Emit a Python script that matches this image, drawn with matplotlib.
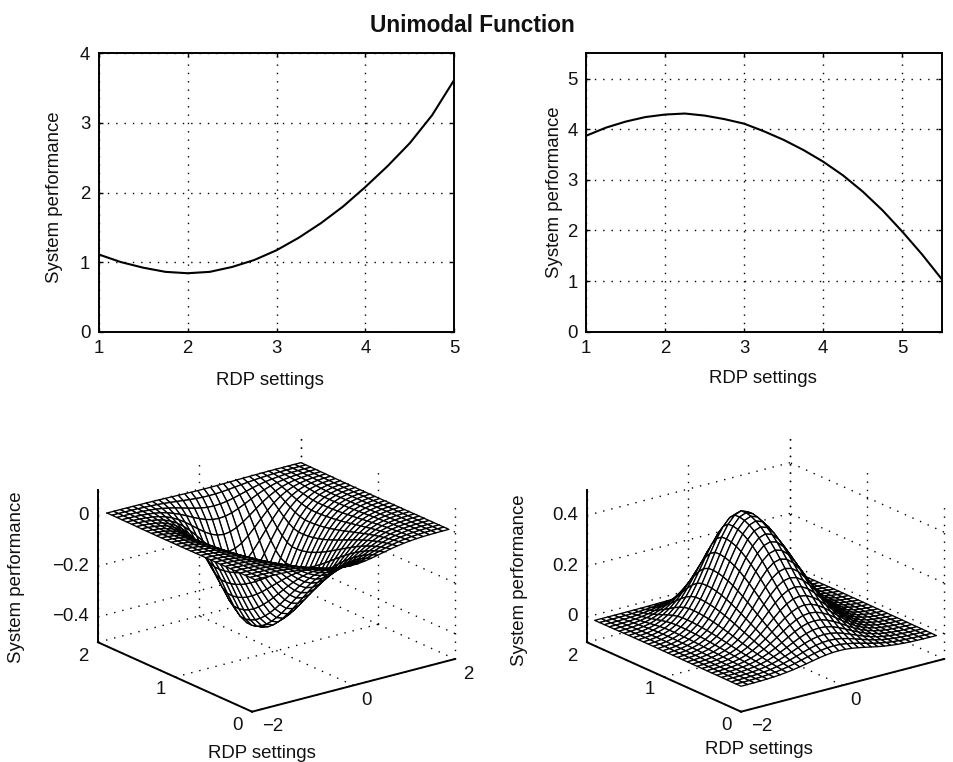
#!/usr/bin/env python3
# -*- coding: utf-8 -*-

import numpy as np
import matplotlib
matplotlib.use('Agg')
import matplotlib.pyplot as plt
from matplotlib.transforms import offset_copy

plt.rcParams['font.family'] = ['Liberation Sans', 'DejaVu Sans']

# =========================================================
# DATA
# =========================================================
W, H = 954, 762
FS = 13.4

left_x = [1, 1.25, 1.5, 1.75, 2, 2.25, 2.5, 2.75, 3, 3.25, 3.5, 3.75, 4, 4.25, 4.5, 4.75, 5]
left_y = [1.11, 1.0, 0.92, 0.86, 0.84, 0.86, 0.93, 1.03, 1.17, 1.35, 1.56, 1.80, 2.08, 2.38, 2.71, 3.11, 3.62]

right_x = [1, 1.25, 1.5, 1.75, 2, 2.25, 2.5, 2.75, 3, 3.25, 3.5, 3.75, 4, 4.25, 4.5, 4.75, 5, 5.25, 5.5]
right_y = [3.87, 4.03, 4.15, 4.24, 4.29, 4.31, 4.27, 4.20, 4.11, 3.96, 3.79, 3.59, 3.36, 3.09, 2.77, 2.40, 1.98, 1.53, 1.04]

# relative height of the bump along each mesh direction
x_profile = [.004, .008, .015, .029, .050, .085, .135, .206, .298, .411, .539, .674, .801, .906, .976, 1.0,
             .976, .906, .801, .674, .539, .411, .298, .206, .135, .085, .050, .029, .015, .008, .004]
y_profile = [.096, .121, .151, .186, .227, .273, .325, .381, .442, .507, .573, .640, .707, .771, .829, .882,
             .927, .962, .986, .998, .995, .95, .86, .74, .60, .46, .33, .21, .12, .05, .01]

pit_depth = -0.45
peak_height = 0.42


# =========================================================
# HELPERS
# =========================================================
def px_text(fig, x, y, s, **kw):
    fig.text(x / W, 1 - y / H, s, ha='center', va='center', fontsize=FS, color='#111111', **kw)


def draw_line_panel(fig, box, x, y, xlim, ylim, xticks, yticks):
    l, r, t, b = box
    ax = fig.add_axes([l / W, 1 - b / H, (r - l) / W, (b - t) / H])
    ax.plot(x, y, color='black', lw=1.5, zorder=3)
    ax.set_xlim(*xlim)
    ax.set_ylim(*ylim)
    ax.set_xticks(xticks)
    ax.set_yticks(yticks)
    ax.grid(True, color='black', lw=1.0, linestyle=(0, (1, 5)))
    ax.tick_params(direction='in', top=True, right=True, length=3, width=1,
                   labelsize=FS, pad=6, labelcolor='#111111')
    for s in ax.spines.values():
        s.set_linewidth(1.4)
    return ax


def draw_surface_panel(fig, left_px, xs, ys, Z, zlim, zticks, zticklabels):
    S = 400
    bottom_px = 779.9
    ax = fig.add_axes([left_px / W, 1 - bottom_px / H, S / W, S / H],
                      projection='3d', computed_zorder=False)
    ax.set_proj_type('ortho')
    ax.view_init(elev=20, azim=-127.2)
    ax.set_box_aspect((1, 1, 0.636), zoom=0.959)
    ax.set_xlim(-2, 2)
    ax.set_ylim(0, 2)
    ax.set_zlim(*zlim)
    ax.set_axis_off()

    z0, z1 = zlim
    dots = dict(color='black', lw=1.0, linestyle=(0, (1, 5)), zorder=1)

    # dotted grid on the floor and on both back walls
    for xt in [-2, 0, 2]:
        ax.plot([xt, xt], [0, 2], [z0, z0], **dots)
        ax.plot([xt, xt], [2, 2], [z0, z1], **dots)
    for yt in [0, 1, 2]:
        ax.plot([-2, 2], [yt, yt], [z0, z0], **dots)
        ax.plot([2, 2], [yt, yt], [z0, z1], **dots)
    for zt in zticks:
        ax.plot([-2, 2], [2, 2], [zt, zt], **dots)
        ax.plot([2, 2], [0, 2], [zt, zt], **dots)

    X, Y = np.meshgrid(xs, ys)
    ax.plot_surface(X, Y, Z, rstride=1, cstride=1, color='white', edgecolor='black',
                    linewidth=0.95, shade=False, zorder=2)

    # solid axis lines
    solid = dict(color='black', lw=1.4, zorder=3)
    ax.plot([-2, 2], [0, 0], [z0, z0], **solid)
    ax.plot([-2, -2], [0, 2], [z0, z0], **solid)
    ax.plot([-2, -2], [2, 2], [z0, z1], **solid)

    def label(x, y, z, s, dx, dy, ha='center'):
        tr = offset_copy(ax.transData, fig=fig, x=dx, y=dy, units='dots')
        ax.text(x, y, z, s, transform=tr, ha=ha, va='center', fontsize=FS,
                color='#111111', zorder=4)

    label(-2, 0, z0, '\u22122', 21, -15)
    label(0, 0, z0, '0', 13, -15)
    label(2, 0, z0, '2', 13, -15)
    label(-2, 0, z0, '0', -15, -14)
    label(-2, 1, z0, '1', -14, -13)
    label(-2, 2, z0, '2', -15, -14)
    for zt, s in zip(zticks, zticklabels):
        label(-2, 2, zt, s, -9, 0, ha='right')
    return ax


# =========================================================
# PLOT
# =========================================================
fig = plt.figure(figsize=(W / 100, H / 100), dpi=100, facecolor='white')

draw_line_panel(fig, (98.7, 454.3, 53.3, 331.7), left_x, left_y, (1, 5), (0, 4),
                [1, 2, 3, 4, 5], [0, 1, 2, 3, 4])
draw_line_panel(fig, (586, 941.7, 53.3, 331.7), right_x, right_y, (1, 5.5), (0, 5.5),
                [1, 2, 3, 4, 5], [0, 1, 2, 3, 4, 5])

pit = pit_depth * np.outer(y_profile, x_profile)
bump = peak_height * np.outer(y_profile, x_profile)

draw_surface_panel(fig, 71.1, np.linspace(-1.82, 2, 31), np.linspace(0.08, 2, 31), pit,
                   (-0.5, 0.1), [-0.4, -0.2, 0], ['\u22120.4', '\u22120.2', '0'])
draw_surface_panel(fig, 560.1, np.linspace(-2, 1.85, 31), np.linspace(0, 1.9, 31), bump,
                   (-0.1, 0.5), [0, 0.2, 0.4], ['0', '0.2', '0.4'])

px_text(fig, 472.5, 26, 'Unimodal Function', fontweight='bold')
fig.texts[-1].set_fontsize(16.3)
px_text(fig, 270, 380, 'RDP settings')
px_text(fig, 763, 379, 'RDP settings')
px_text(fig, 55, 197, 'System performance', rotation=90)
px_text(fig, 555, 192, 'System performance', rotation=90)
px_text(fig, 262, 753, 'RDP settings')
px_text(fig, 759, 749, 'RDP settings')
px_text(fig, 17, 577, 'System performance', rotation=90)
px_text(fig, 520, 580, 'System performance', rotation=90)

fig.savefig('out.png', dpi=100)
